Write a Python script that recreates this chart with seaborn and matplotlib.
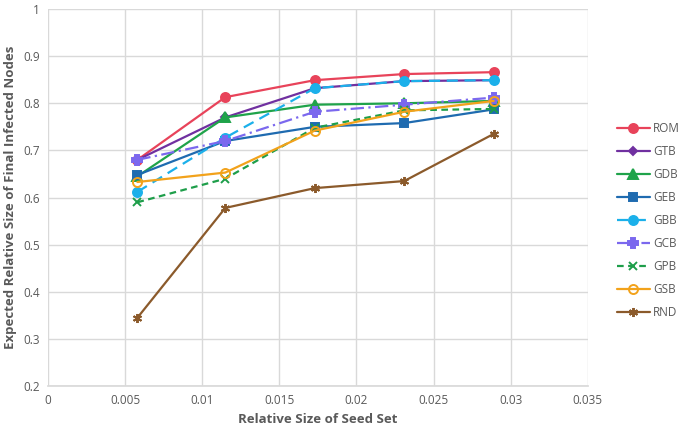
import numpy as np
import pandas as pd
import matplotlib
matplotlib.use("Agg")
import matplotlib.pyplot as plt
import seaborn as sns

# ── Datos ────────────────────────────────────────────────────
seed_size = [0.0058, 0.0115, 0.0173, 0.0231, 0.0289]

rom = [0.680, 0.813, 0.849, 0.862, 0.866]
gtb = [0.680, 0.770, 0.832, 0.847, 0.849]
gdb = [0.645, 0.770, 0.797, 0.800, 0.805]
geb = [0.648, 0.720, 0.750, 0.758, 0.787]
gbb = [0.612, 0.727, 0.832, 0.847, 0.849]
gcb = [0.680, 0.720, 0.782, 0.797, 0.812]
gpb = [0.590, 0.640, 0.748, 0.785, 0.788]
gsb = [0.633, 0.653, 0.742, 0.782, 0.805]
rnd = [0.345, 0.578, 0.620, 0.635, 0.735]

series = {"ROM": rom, "GTB": gtb, "GDB": gdb, "GEB": geb, "GBB": gbb,
          "GCB": gcb, "GPB": gpb, "GSB": gsb, "RND": rnd}

# ── Estilos ──────────────────────────────────────────────────
estilos = {
    "ROM": dict(color="#E8435A", ls="-", marker="o", ms=6.5, mfc="#E8435A"),
    "GTB": dict(color="#7030A0", ls="-", marker="D", ms=4.5, mfc="#7030A0"),
    "GDB": dict(color="#1FA34A", ls="-", marker="^", ms=6.5, mfc="#1FA34A"),
    "GEB": dict(color="#1F6BB0", ls="-", marker="s", ms=5.5, mfc="#1F6BB0"),
    "GBB": dict(color="#1BB0EA", ls=(0, (5, 3)), marker="o", ms=6.5, mfc="#1BB0EA"),
    "GCB": dict(color="#7B68EE", ls=(0, (6, 2, 1, 2)), marker="P", ms=6.5, mfc="#7B68EE"),
    "GPB": dict(color="#1E9E4A", ls=(0, (3, 2)), marker="x", ms=5.5, mfc="#1E9E4A"),
    "GSB": dict(color="#F2A21B", ls="-", marker="o", ms=6.5, mfc="none"),
    "RND": dict(color="#8B5A2B", ls="-", marker=(6, 2, 0), ms=6.5, mfc="#8B5A2B"),
}

sns.set_theme(style="whitegrid")
plt.rcParams["font.family"] = ["Open Sans", "DejaVu Sans"]

fig = plt.figure(figsize=(6.85, 4.29), dpi=100)
ax = fig.add_axes([0.070, 0.100, 0.788, 0.879])

for nombre, valores in series.items():
    st = estilos[nombre]
    df = pd.DataFrame({"x": seed_size, "y": valores})
    sns.lineplot(data=df, x="x", y="y", ax=ax, color=st["color"], linestyle=st["ls"],
                 marker=st["marker"], markersize=st["ms"], markerfacecolor=st["mfc"],
                 markeredgecolor=st["color"], markeredgewidth=1.4, linewidth=1.6,
                 label=nombre)

ax.set_xlim(0, 0.035)
ax.set_ylim(0.2, 1.0)
ax.set_xticks(np.arange(0, 0.0351, 0.005))
ax.set_xticklabels(["0", "0.005", "0.01", "0.015", "0.02", "0.025", "0.03", "0.035"])
ax.set_yticks(np.arange(0.2, 1.001, 0.1))
ax.set_yticklabels(["0.2", "0.3", "0.4", "0.5", "0.6", "0.7", "0.8", "0.9", "1"])
ax.grid(True, color="#D9D9D9", linewidth=1)
ax.tick_params(axis="both", labelsize=8.5, colors="#595959", length=0, pad=6)
for lado in ["top", "right", "left"]:
    ax.spines[lado].set_visible(False)
ax.spines["bottom"].set_color("#D9D9D9")

ax.set_xlabel("Relative Size of Seed Set", fontsize=9.5, fontweight="bold", color="#595959")
ax.set_ylabel("Expected Relative Size of Final Infected Nodes", fontsize=9.5,
              fontweight="bold", color="#595959")

handles, labels = ax.get_legend_handles_labels()
ax.legend_.remove()
fig.legend(handles, labels, loc="upper left", bbox_to_anchor=(0.900, 0.716),
           frameon=False, fontsize=8.5, handlelength=2.8, labelspacing=0.85,
           handletextpad=0.3, borderpad=0, borderaxespad=0, labelcolor="#595959")

plt.savefig("out.png", dpi=100)
